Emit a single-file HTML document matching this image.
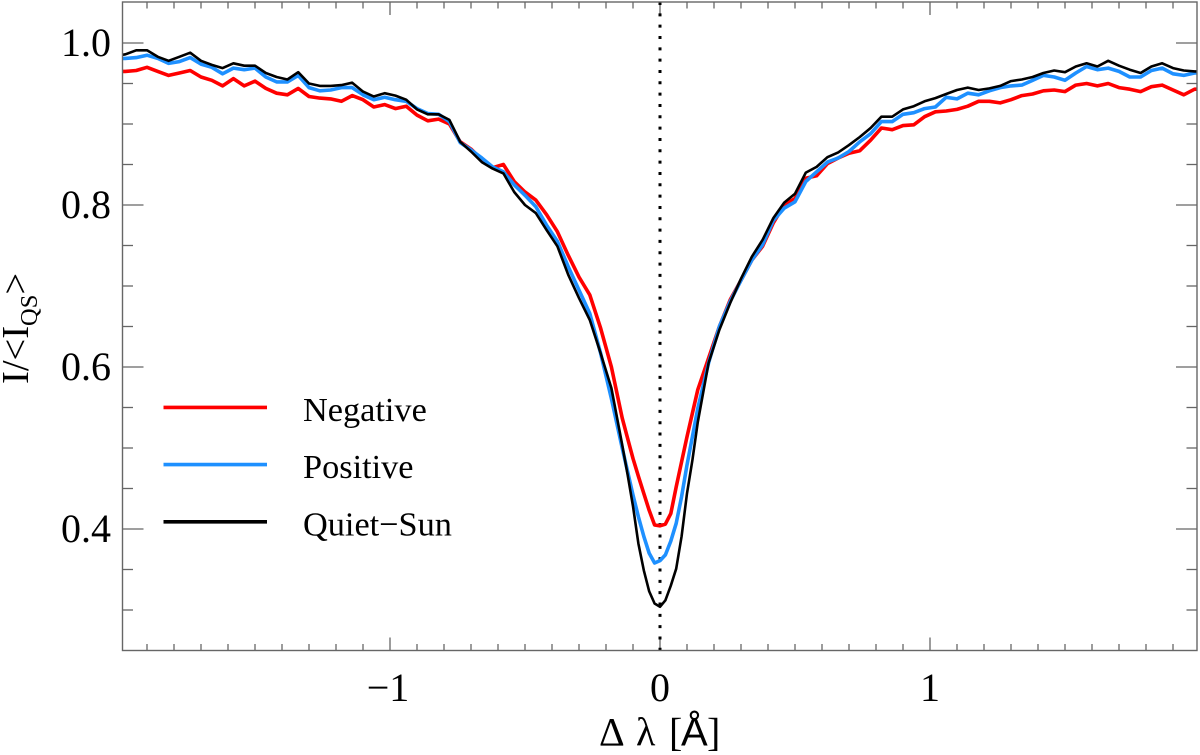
<!DOCTYPE html>
<html>
<head>
<meta charset="utf-8">
<title>Line profiles</title>
<style>
html,body{margin:0;padding:0;background:#fff;}
svg{display:block;}
text{font-family:"Liberation Serif",serif;fill:#000;}
</style>
</head>
<body>
<svg id="chart" width="1200" height="755" viewBox="0 0 1200 755" xmlns="http://www.w3.org/2000/svg">
  <defs><clipPath id="plot-clip"><rect x="122.5" y="2" width="1074.5" height="648.5"/></clipPath></defs>
  <g id="ticks"></g>
  <g id="tick-labels"></g>
  <g id="series" clip-path="url(#plot-clip)"></g>
  <rect x="122.5" y="2" width="1074.5" height="648.5" fill="none" stroke="#666" stroke-width="1.4"/>
  <text y="745.5" font-size="40"><tspan x="599">Δ</tspan><tspan x="636">λ</tspan><tspan x="669">[</tspan><tspan x="681" style="font-family:'Liberation Sans',sans-serif">Å</tspan><tspan x="707">]</tspan></text>
  <text transform="translate(28,384) rotate(-90)" font-size="38.5">I/&lt;I<tspan font-size="24.5" dy="9">QS</tspan><tspan dy="-9">&gt;</tspan></text>
  <g id="legend"></g>
</svg>
<script>
const wavelengths = [-2.00,-1.98,-1.94,-1.90,-1.86,-1.82,-1.78,-1.74,-1.70,-1.66,-1.62,-1.58,-1.54,-1.50,-1.46,-1.42,-1.38,-1.34,-1.30,-1.26,-1.22,-1.18,-1.14,-1.10,-1.06,-1.02,-0.98,-0.94,-0.90,-0.86,-0.82,-0.78,-0.74,-0.70,-0.66,-0.62,-0.58,-0.54,-0.50,-0.46,-0.42,-0.38,-0.34,-0.30,-0.26,-0.22,-0.18,-0.14,-0.12,-0.10,-0.08,-0.06,-0.04,-0.02,0,0.02,0.04,0.06,0.08,0.10,0.12,0.14,0.18,0.22,0.26,0.30,0.34,0.38,0.42,0.46,0.50,0.54,0.58,0.62,0.66,0.70,0.74,0.78,0.82,0.86,0.90,0.94,0.98,1.02,1.06,1.10,1.14,1.18,1.22,1.26,1.30,1.34,1.38,1.42,1.46,1.50,1.54,1.58,1.62,1.66,1.70,1.74,1.78,1.82,1.86,1.90,1.94,1.98,2.00];
const negativeValues = [.965,.965,.966,.970,.965,.960,.963,.966,.958,.954,.947,.956,.947,.953,.944,.938,.936,.944,.934,.932,.931,.928,.935,.930,.921,.924,.919,.922,.911,.904,.906,.900,.878,.869,.856,.846,.850,.829,.816,.806,.788,.767,.738,.711,.689,.648,.600,.537,.512,.487,.465,.444,.423,.405,.404,.406,.419,.452,.483,.514,.543,.572,.611,.650,.683,.707,.732,.749,.778,.800,.808,.833,.836,.851,.858,.864,.867,.880,.895,.893,.898,.899,.909,.915,.916,.918,.922,.928,.928,.926,.930,.935,.937,.941,.942,.940,.948,.950,.947,.950,.945,.943,.940,.946,.948,.942,.936,.943,.943];
const positiveValues = [.981,.981,.982,.985,.981,.975,.977,.982,.974,.970,.962,.969,.967,.969,.958,.952,.952,.960,.945,.941,.942,.945,.945,.936,.930,.933,.930,.928,.919,.913,.912,.903,.877,.868,.858,.847,.841,.825,.812,.798,.775,.755,.724,.695,.666,.617,.561,.500,.471,.442,.415,.391,.370,.358,.361,.368,.385,.407,.440,.479,.514,.549,.605,.650,.681,.707,.732,.751,.781,.796,.804,.829,.841,.853,.858,.866,.878,.888,.903,.903,.912,.914,.919,.921,.933,.931,.938,.936,.941,.945,.947,.948,.954,.960,.958,.954,.963,.971,.967,.969,.965,.958,.958,.966,.969,.962,.960,.963,.963];
const quietSunValues = [.985,.986,.991,.991,.983,.978,.983,.988,.978,.973,.969,.975,.972,.972,.963,.958,.955,.964,.950,.947,.947,.948,.951,.940,.934,.938,.935,.930,.918,.912,.912,.905,.878,.866,.853,.845,.839,.816,.800,.790,.769,.749,.714,.685,.658,.617,.574,.504,.467,.428,.382,.349,.323,.308,.304,.312,.330,.351,.391,.444,.485,.532,.605,.646,.679,.709,.736,.757,.784,.803,.814,.840,.847,.859,.865,.874,.884,.895,.909,.909,.918,.922,.928,.932,.937,.942,.945,.942,.944,.947,.953,.955,.958,.963,.966,.964,.971,.975,.971,.978,.972,.967,.963,.971,.975,.969,.966,.965,.965];
const xTickLabels = ["\u22121","0","1"];
const xTickValues = [-1,0,1];
const yTickLabels = ["0.4","0.6","0.8","1.0"];
const yTickValues = [0.4,0.6,0.8,1.0];
const legendLabels = ["Negative","Positive","Quiet\u2212Sun"];

const NS = "http://www.w3.org/2000/svg";
const xScale = v => 660 + 270 * v;
const yScale = v => 43 + 810 * (1 - v);

function make(tag, parent, attrs, text) {
  const el = document.createElementNS(NS, tag);
  for (const k in attrs) el.setAttribute(k, attrs[k]);
  if (text !== undefined) el.textContent = text;
  parent.appendChild(el);
  return el;
}

const ticks = document.getElementById("ticks");
const tickStyle = {stroke: "#666", "stroke-width": 1.3};
for (let i = -19; i <= 19; i++) {
  const x = xScale(i / 10);
  const len = i % 10 === 0 ? 13 : 6.5;
  const bottom = make("line", ticks, Object.assign({x1: x, x2: x, y1: 650.5, y2: 650.5 - len}, tickStyle));
  
  
  const top = make("line", ticks, Object.assign({x1: x, x2: x, y1: 2, y2: 2 + len}, tickStyle));
  
  
}
for (let i = 6; i <= 20; i++) {
  const y = yScale(i / 20);
  const len = i % 4 === 0 ? 21 : 10.5;
  const left = make("line", ticks, Object.assign({x1: 122.5, x2: 122.5 + len, y1: y, y2: y}, tickStyle));
  
  
  const right = make("line", ticks, Object.assign({x1: 1197, x2: 1197 - len, y1: y, y2: y}, tickStyle));
  
  
}

const tickLabels = document.getElementById("tick-labels");
xTickValues.forEach((v, i) => {
  const t = make("text", tickLabels, {x: xScale(v) - (v < 0 ? 2 : 0), y: 701, "font-size": 40, "text-anchor": "middle"}, xTickLabels[i]);
  
  
});
yTickValues.forEach((v, i) => {
  const t = make("text", tickLabels, {x: 111, y: yScale(v) + 13, "font-size": 40, "text-anchor": "end"}, yTickLabels[i]);
  
  
});

const seriesGroup = document.getElementById("series");
const refLine = make("line", seriesGroup, {x1: xScale(0), x2: xScale(0), y1: 2, y2: 650, stroke: "#000", "stroke-width": 3, "stroke-dasharray": "3 8.33"});



function linePoints(values) {
  return values.map((v, i) => xScale(wavelengths[i]).toFixed(1) + "," + yScale(v).toFixed(1)).join(" ");
}
const fillNone = {fill: "none", "stroke-linejoin": "round"};
const lineNegative = make("polyline", seriesGroup, Object.assign({points: linePoints(negativeValues), stroke: "#ff0000", "stroke-width": 3.6}, fillNone));


const linePositive = make("polyline", seriesGroup, Object.assign({points: linePoints(positiveValues), stroke: "#1e90ff", "stroke-width": 3.6}, fillNone));


const lineQuiet = make("polyline", seriesGroup, Object.assign({points: linePoints(quietSunValues), stroke: "#000", "stroke-width": 2.6}, fillNone));



const legend = document.getElementById("legend");
const legendColors = ["#ff0000", "#1e90ff", "#000"];
legendLabels.forEach((label, i) => {
  const y = 407.4 + 57.2 * i;
  const sw = make("line", legend, {x1: 163.5, x2: 267, y1: y, y2: y, stroke: legendColors[i], "stroke-width": 3.6});
  
  
  const tx = make("text", legend, {x: 303, y: y + 13.6, "font-size": 34.3}, label);
  
  
});
</script>
</body>
</html>
